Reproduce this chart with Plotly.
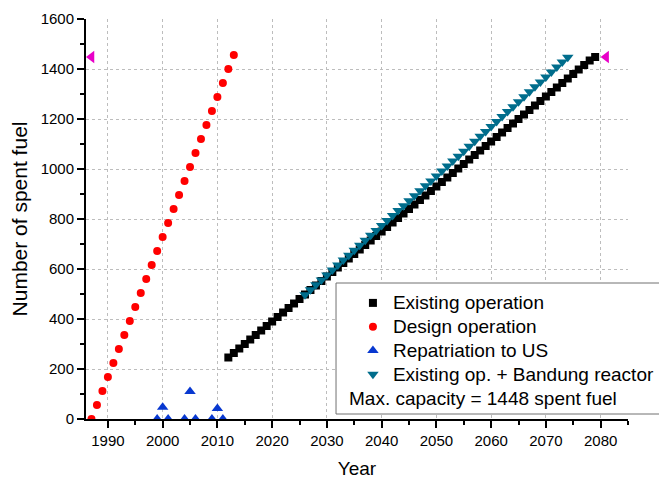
import plotly.graph_objects as go

# ---- data ----
design_years = list(range(1987, 2014))
design_vals = [0, 56, 112, 168, 224, 280, 336, 392, 448, 504, 560, 616, 672, 728,
               784, 840, 896, 952, 1008, 1064, 1120, 1176, 1232, 1288, 1344, 1400, 1456]

existing_years = list(range(2012, 2080))
existing_vals = [246, 264, 282, 300, 318, 336, 354, 372, 390, 408,
                 426, 444, 462, 480, 498,
                 516, 534, 552, 570, 588,
                 606, 624, 642, 660, 678,
                 696, 714, 732, 750, 768,
                 786, 804, 822, 840, 858,
                 876, 894, 912, 930, 948,
                 966, 984, 1002, 1020, 1038,
                 1056, 1074, 1092, 1110, 1128,
                 1146, 1164, 1182, 1200, 1218,
                 1236, 1254, 1272, 1290, 1308,
                 1326, 1344, 1362, 1380, 1398,
                 1416, 1434, 1448]

bandung_years = list(range(2026, 2075))
bandung_vals = [497, 517, 537, 556, 576, 596, 616, 636, 655, 675,
                695, 715, 735, 754, 774, 794, 814, 834, 853, 873,
                893, 913, 933, 952, 972, 992, 1012, 1032, 1051, 1071,
                1091, 1111, 1131, 1150, 1170, 1190, 1210, 1230, 1249, 1269,
                1289, 1309, 1329, 1348, 1368, 1388, 1408, 1428, 1447]

repat_years = [1999, 2000, 2001, 2004, 2005, 2006, 2009, 2010, 2011]
repat_vals = [0, 47, 0, 0, 110, 0, 0, 42, 0]

capacity_years = [1987, 2081]
capacity_vals = [1448, 1448]

x_ticks = [1990, 2000, 2010, 2020, 2030, 2040, 2050, 2060, 2070, 2080]
y_ticks = [0, 200, 400, 600, 800, 1000, 1200, 1400, 1600]

FONT = "Liberation Sans, Arial, sans-serif"


def lg(text):
    return "<span style='font-size:19px'>" + text + "</span>"


fig = go.Figure()
fig.add_trace(go.Scatter(x=existing_years, y=existing_vals, mode="markers",
                         name=lg("Existing operation"),
                         marker=dict(symbol="square", size=8, color="black")))
fig.add_trace(go.Scatter(x=design_years, y=design_vals, mode="markers",
                         name=lg("Design operation"),
                         marker=dict(symbol="circle", size=8, color="#ff0000")))
fig.add_trace(go.Scatter(x=repat_years, y=repat_vals, mode="markers",
                         name=lg("Repatriation to US"),
                         marker=dict(symbol="triangle-up", size=10, color="#0838d0")))
fig.add_trace(go.Scatter(x=bandung_years, y=bandung_vals, mode="markers",
                         name=lg("Existing op. + Bandung reactor"),
                         marker=dict(symbol="triangle-down", size=10, color="#006d8c")))
fig.add_trace(go.Scatter(x=capacity_years, y=capacity_vals, mode="markers",
                         showlegend=False, name="Max. capacity",
                         marker=dict(symbol="triangle-left", size=11, color="#e800c8")))

axis_common = dict(
    showline=True, linecolor="black", linewidth=2,
    ticks="outside", ticklen=7, tickwidth=2, tickcolor="black",
    showgrid=True, gridcolor="#bdbdbd", griddash="dot", gridwidth=1,
    zeroline=False, mirror=False, automargin=False,
    tickfont=dict(family=FONT, size=15, color="black"),
)

fig.update_xaxes(range=[1986, 2085], tickvals=x_ticks,
                 minor=dict(dtick=5, tick0=1990, ticks="outside", ticklen=4,
                            tickwidth=2, tickcolor="black", showgrid=False),
                 title=dict(text="Year", font=dict(family=FONT, size=19, color="black"),
                            standoff=14),
                 **axis_common)
fig.update_yaxes(range=[0, 1600], tickvals=y_ticks,
                 minor=dict(dtick=100, tick0=0, ticks="outside", ticklen=4,
                            tickwidth=2, tickcolor="black", showgrid=False),
                 title=dict(text="Number of spent fuel",
                            font=dict(family=FONT, size=21, color="black"),
                            standoff=11),
                 **axis_common)

# legend frame and extra line
fig.add_shape(type="rect", xref="paper", yref="paper",
              x0=0.4613, x1=1.0701, y0=0.0125, y1=0.34,
              line=dict(color="#707070", width=1), fillcolor="white", layer="above")
fig.add_annotation(xref="paper", yref="paper", x=0.4815, y=0.0525,
                   xanchor="left", yanchor="middle", showarrow=False,
                   text="Max. capacity = 1448 spent fuel",
                   font=dict(family=FONT, size=19, color="black"))

# the page body has an 8px margin, so the figure is sized to fill the rest
fig.update_layout(
    width=659, height=472,
    margin=dict(l=78, r=39, t=11, b=61, autoexpand=False),
    paper_bgcolor="white", plot_bgcolor="white",
    font=dict(family=FONT, color="black"),
    legend=dict(x=0.4925, y=0.3325, xanchor="left", yanchor="top",
                bgcolor="rgba(0,0,0,0)", borderwidth=0,
                font=dict(family=FONT, size=16, color="black")),
)

fig.write_html("out.html")
